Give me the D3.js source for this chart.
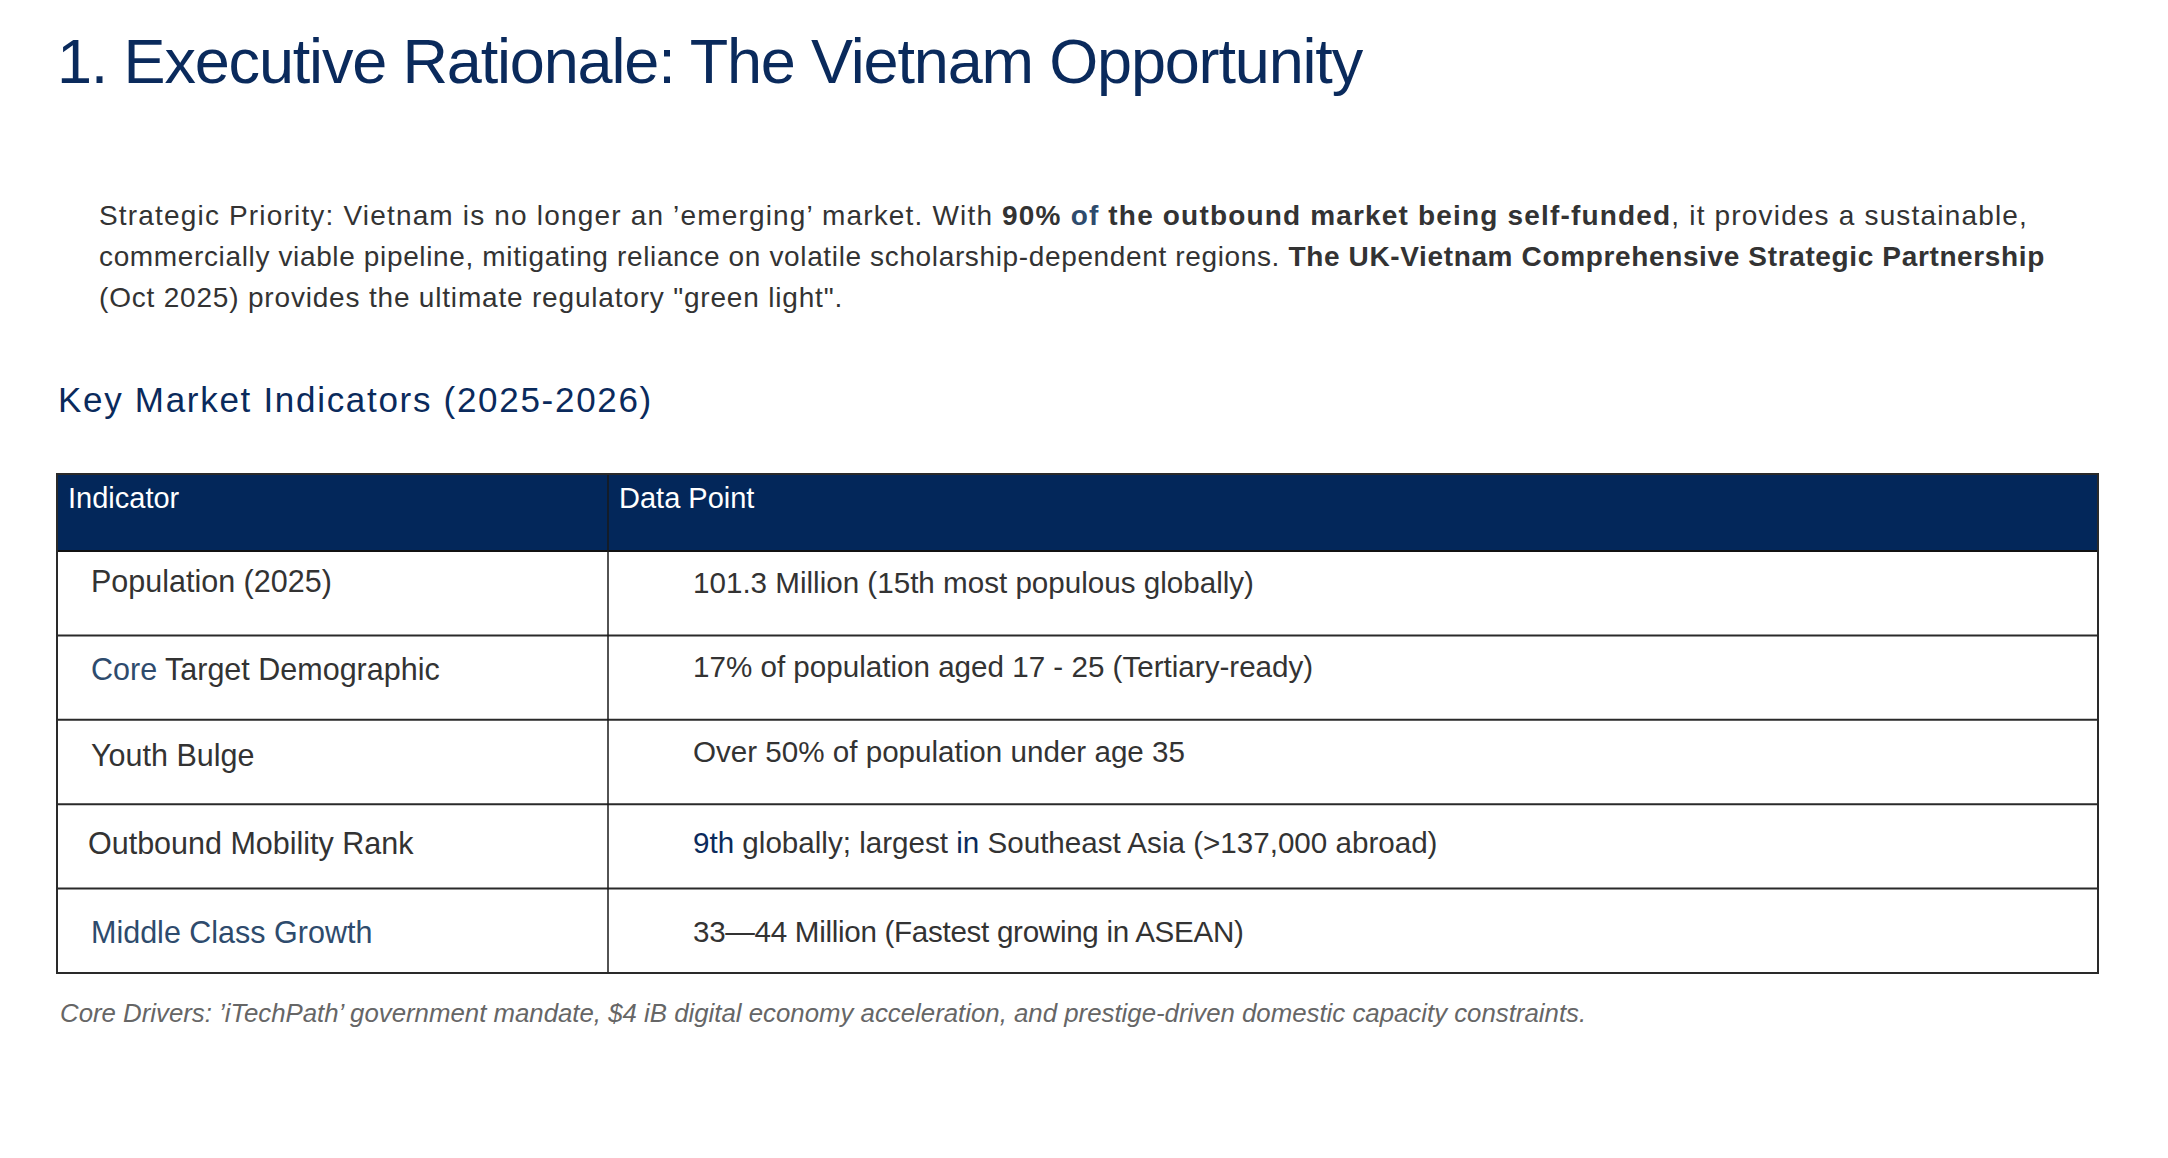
<!DOCTYPE html>
<html>
<head>
<meta charset="utf-8">
<script src="https://cdn.jsdelivr.net/npm/d3@7"></script>
<style>
    body { margin: 0; background: #ffffff; }
    svg { display: block; font-family: 'Liberation Sans', Arial, Helvetica, sans-serif; }
</style>
</head>
<body>
<div id="slide"></div>
<script>
// table content
var headers = ['Indicator', 'Data Point'];
var indicators = [
    'Population (2025)',
    'Core Target Demographic',
    'Youth Bulge',
    'Outbound Mobility Rank',
    'Middle Class Growth'
];
var dataPoints = [
    '101.3 Million (15th most populous globally)',
    '17% of population aged 17 - 25 (Tertiary-ready)',
    'Over 50% of population under age 35',
    '9th globally; largest in Southeast Asia (>137,000 abroad)',
    '33\u201444 Million (Fastest growing in ASEAN)'
];
// words shown in the accent colour
var indicatorAccent = [[], ['Core'], [], [], ['Middle Class Growth']];
var dataAccent = [[], [], [], ['9th', 'in'], []];

// layout: small per-row nudges of the text baseline, as on the slide
var indicatorNudge = [0, 4, 5, 9, 13];
var dataNudge = [1, 1, 1, 8, 12];
var indicatorIndent = [34, 34, 34, 31, 34];

var NAVY = '#0a2a5c';
var HEAD = '#03275a';
var ACCENT = '#2e4b6d';
var TEXT = '#333333';

var svg = d3.select('#slide')
    .append('svg')
    .attr('width', 2168)
    .attr('height', 1158);

svg.append('rect')
    .attr('width', 2168)
    .attr('height', 1158)
    .attr('fill', '#ffffff');

// stretch or squeeze a text to a given width through its letter spacing
function fitWidth(sel, width) {
    var w = sel.node().getComputedTextLength();
    var n = sel.text().length;
    sel.attr('letter-spacing', ((width - w) / n) + 'px');
}

var title = svg.append('text')
    .attr('x', 57)
    .attr('y', 83)
    .attr('font-size', '63px')
    .attr('fill', NAVY)
    .text('1. Executive Rationale: The Vietnam Opportunity');
fitWidth(title, 1305);

// paragraph, one text per line
var para = [
    [['Strategic Priority: Vietnam is no longer an \u2019emerging\u2019 market. With ', 'n'], ['90%', 'b'], [' of', 'ba'], [' the outbound market being self-funded', 'b'], [', it provides a sustainable,', 'n']],
    [['commercially viable pipeline, mitigating reliance on volatile scholarship-dependent regions. ', 'n'], ['The UK-Vietnam Comprehensive Strategic Partnership', 'b']],
    [['(Oct 2025) provides the ultimate regulatory "green light".', 'n']]
];
var paraWidth = [1929, 1946, 744];

para.forEach(function(line, i) {
    var t = svg.append('text')
        .attr('x', 99)
        .attr('y', 225 + i * 41)
        .attr('font-size', '28px')
        .attr('fill', TEXT)
        .attr('xml:space', 'preserve');
    line.forEach(function(seg) {
        t.append('tspan')
            .attr('font-weight', seg[1].indexOf('b') === 0 ? 'bold' : 'normal')
            .attr('fill', seg[1] === 'ba' ? ACCENT : TEXT)
            .text(seg[0]);
    });
    fitWidth(t, paraWidth[i]);
});

svg.append('text')
    .attr('x', 58)
    .attr('y', 412)
    .attr('font-size', '35px')
    .attr('letter-spacing', '1.7px')
    .attr('fill', NAVY)
    .text('Key Market Indicators (2025-2026)');

// table
var tLeft = 57, tMid = 608, tRight = 2098, tTop = 474, tHead = 551, tBottom = 973;

var y = d3.scaleBand()
    .domain(d3.range(indicators.length))
    .range([tHead, tBottom]);

var col = d3.scaleOrdinal()
    .domain(headers)
    .range([tLeft, tMid]);

svg.append('rect')
    .attr('x', tLeft)
    .attr('y', tTop)
    .attr('width', tRight - tLeft)
    .attr('height', tHead - tTop)
    .attr('fill', HEAD);

svg.selectAll('.head')
    .data(headers)
    .enter()
    .append('text')
    .attr('class', 'head')
    .attr('x', function(d) { return col(d) + 11; })
    .attr('y', tTop + 34)
    .attr('font-size', '29px')
    .attr('fill', '#ffffff')
    .text(function(d) { return d; });

function splitAccent(str, words) {
    if (words.length === 0) return [[str, false]];
    var re = new RegExp('(' + words.map(function(w) { return '\\b' + w + '\\b'; }).join('|') + ')');
    var parts = str.split(re).filter(function(p) { return p !== ''; });
    return parts.map(function(p) { return [p, words.indexOf(p) >= 0]; });
}

function cellText(x, yy, str, words, color, size) {
    var t = svg.append('text')
        .attr('x', x)
        .attr('y', yy)
        .attr('font-size', size)
        .attr('fill', TEXT)
        .attr('xml:space', 'preserve');
    splitAccent(str, words).forEach(function(p) {
        t.append('tspan')
            .attr('fill', p[1] ? color : TEXT)
            .text(p[0]);
    });
    return t;
}

indicators.forEach(function(d, i) {
    cellText(tLeft + indicatorIndent[i], y(i) + 41 + indicatorNudge[i], d, indicatorAccent[i], ACCENT, '30.5px');
});

dataPoints.forEach(function(d, i) {
    var t = cellText(tMid + 85, y(i) + 41 + dataNudge[i], d, dataAccent[i], NAVY, '29.6px');
    // the en/em dash range is set tight on the slide
    if (d.indexOf('\u2014') >= 0) t.attr('letter-spacing', '-0.3px');
});

// row lines
svg.selectAll('.rowline')
    .data(d3.range(1, indicators.length))
    .enter()
    .append('line')
    .attr('class', 'rowline')
    .attr('x1', tLeft)
    .attr('x2', tRight)
    .attr('y1', function(d) { return y(d); })
    .attr('y2', function(d) { return y(d); })
    .attr('stroke', '#2a2a2a')
    .attr('stroke-width', 2);

svg.append('line')
    .attr('x1', tLeft)
    .attr('x2', tRight)
    .attr('y1', tHead)
    .attr('y2', tHead)
    .attr('stroke', '#111111')
    .attr('stroke-width', 2);

svg.append('line')
    .attr('x1', tMid)
    .attr('x2', tMid)
    .attr('y1', tTop)
    .attr('y2', tBottom)
    .attr('stroke', '#1a1a1a')
    .attr('stroke-width', 1.5);

svg.append('rect')
    .attr('x', tLeft)
    .attr('y', tTop)
    .attr('width', tRight - tLeft)
    .attr('height', tBottom - tTop)
    .attr('fill', 'none')
    .attr('stroke', '#2a2a2a')
    .attr('stroke-width', 2);

svg.append('text')
    .attr('x', 60)
    .attr('y', 1022)
    .attr('font-size', '25.8px')
    .attr('font-style', 'italic')
    .attr('fill', '#666666')
    .text('Core Drivers: \u2019iTechPath\u2019 government mandate, $4 iB digital economy acceleration, and prestige-driven domestic capacity constraints.');
</script>
</body>
</html>
